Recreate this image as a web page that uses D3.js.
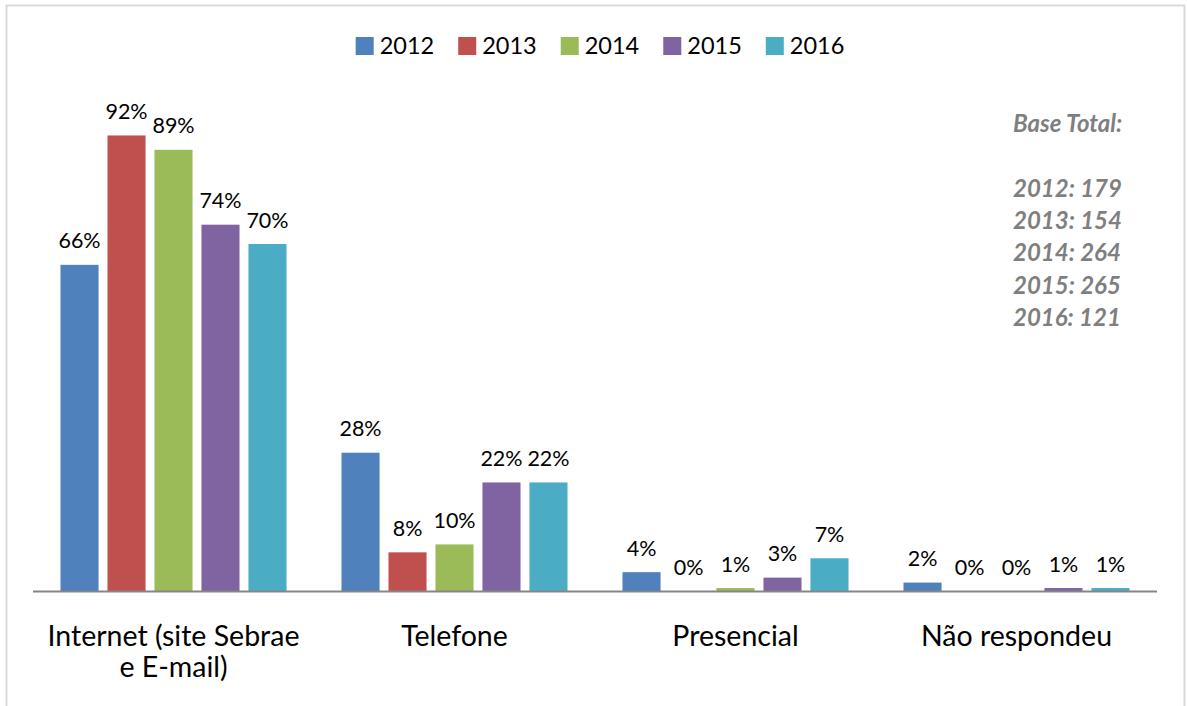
<!DOCTYPE html>
<html>
<head>
<meta charset="utf-8">
<script src="https://cdn.jsdelivr.net/npm/d3@7"></script>
<style>
  body { margin: 0; background: #fff; }
  svg { display: block; font-family: Lato, "Open Sans", sans-serif; }
</style>
</head>
<body>
<svg id="chart"></svg>
<script>
// Categories (x axis) and one array of values (%) per year.
const categories = ["Internet (site Sebrae\ne E-mail)", "Telefone", "Presencial", "Não respondeu"];
const years = ["2012", "2013", "2014", "2015", "2016"];
const values2012 = [65.9, 28.0, 3.9, 1.8];
const values2013 = [92.0, 7.9, 0, 0];
const values2014 = [89.1, 9.5, 0.7, 0];
const values2015 = [74.0, 22.0, 2.8, 0.7];
const values2016 = [70.1, 22.0, 6.7, 0.7];
const colors = ["#4F81BD", "#C0504D", "#9BBB59", "#8064A2", "#4BACC6"];

// Side note shown on the right.
const baseTitle = "Base Total:";
const baseTotals = ["2012: 179", "2013: 154", "2014: 264", "2015: 265", "2016: 121"];

const width = 1187;
const height = 706;

const series = [values2012, values2013, values2014, values2015, values2016];

const svg = d3.select("#chart")
  .attr("width", width)
  .attr("height", height);

// Light grey frame around the chart.
svg.append("rect")
  .attr("x", 6.5)
  .attr("y", 5.5)
  .attr("width", 1178)
  .attr("height", 720)
  .attr("fill", "none")
  .attr("stroke", "#D9D9D9")
  .attr("stroke-width", 2);

// Plot area.
const left = 33, right = 1157, baseY = 591.5;

const x0 = d3.scaleBand()
  .domain(categories)
  .range([left, right]);

const x1 = d3.scaleBand()
  .domain(years)
  .range([0, x0.bandwidth()])
  .paddingInner(0.19)
  .paddingOuter(0.585);

const y = d3.scaleLinear()
  .domain([0, 100])
  .range([baseY, baseY - 495.7]);

// Build one row per bar.
const bars = [];
categories.forEach((c, i) => {
  years.forEach((yr, j) => {
    bars.push({ cat: c, year: yr, value: series[j][i], color: colors[j] });
  });
});

const barG = svg.append("g");

barG.selectAll("rect")
  .data(bars)
  .enter()
  .append("rect")
  .attr("x", d => x0(d.cat) + x1(d.year))
  .attr("y", d => y(d.value))
  .attr("width", x1.bandwidth())
  .attr("height", d => baseY - y(d.value))
  .attr("fill", d => d.color);

// Value labels above each bar.
barG.selectAll("text")
  .data(bars)
  .enter()
  .append("text")
  .attr("x", d => x0(d.cat) + x1(d.year) + x1.bandwidth() / 2)
  .attr("y", d => y(d.value) - 16.5)
  .attr("text-anchor", "middle")
  .attr("font-size", 21.5)
  .attr("fill", "#000")
  .text(d => Math.round(d.value) + "%");

// Category axis line.
svg.append("line")
  .attr("x1", left)
  .attr("x2", right)
  .attr("y1", baseY)
  .attr("y2", baseY)
  .attr("stroke", "#868686")
  .attr("stroke-width", 2);

// Category labels (can be two lines).
const catText = svg.append("g")
  .selectAll("text")
  .data(categories)
  .enter()
  .append("text")
  .attr("text-anchor", "middle")
  .attr("font-size", 28.5)
  .attr("fill", "#000");

catText.each(function(d) {
  const t = d3.select(this);
  const cx = x0(d) + x0.bandwidth() / 2;
  d.split("\n").forEach((line, k) => {
    t.append("tspan")
      .attr("x", cx)
      .attr("y", 646 + k * 31)
      .text(line);
  });
});

// Legend, centred at the top.
const legend = svg.append("g");
const items = legend.selectAll("g")
  .data(years)
  .enter()
  .append("g");

items.append("rect")
  .attr("width", 18)
  .attr("height", 18)
  .attr("y", 37)
  .attr("fill", (d, i) => colors[i]);

items.append("text")
  .attr("x", 24)
  .attr("y", 54)
  .attr("font-size", 23.5)
  .attr("fill", "#000")
  .text(d => d);

let offset = 0;
items.each(function() {
  const w = this.getBBox().width;
  d3.select(this).attr("transform", `translate(${offset},0)`);
  offset += w + 24;
});
const legendWidth = offset - 24;
legend.attr("transform", `translate(${600 - legendWidth / 2},0)`);

// "Base Total" note.
const note = svg.append("text")
  .attr("font-size", 24)
  .attr("font-weight", "bold")
  .attr("font-style", "italic")
  .attr("fill", "#7F7F7F");

note.append("tspan")
  .attr("x", 1013)
  .attr("y", 132)
  .text(baseTitle);

baseTotals.forEach((t, i) => {
  note.append("tspan")
    .attr("x", 1013)
    .attr("y", 197 + i * 32.2)
    .text(t);
});
</script>
</body>
</html>
